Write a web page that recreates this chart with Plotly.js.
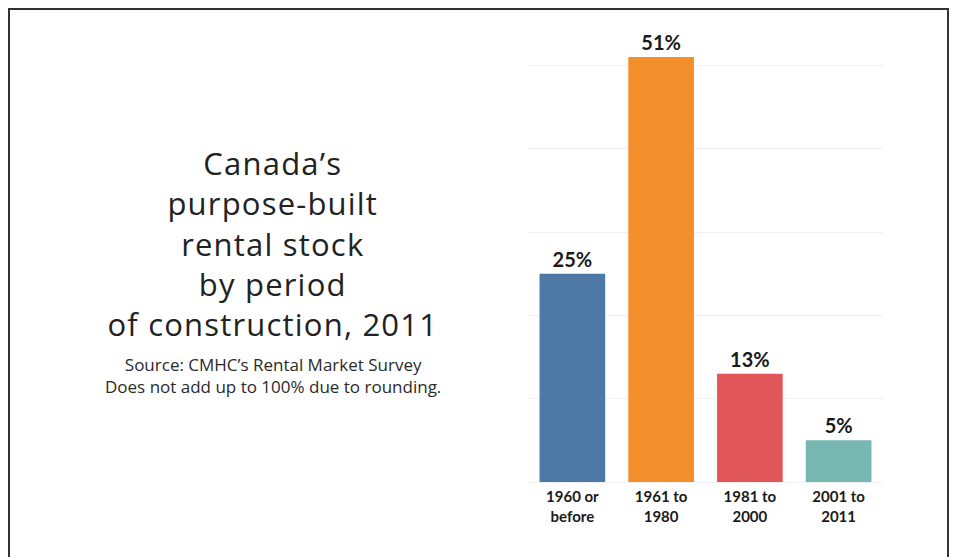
<!DOCTYPE html>
<html>
<head>
<meta charset="utf-8">
<script src="https://cdn.plot.ly/plotly-3.0.1.min.js"></script>
<style>
  html, body { margin: 0; padding: 0; background: #fff; }
  #wrap { position: relative; width: 959px; height: 557px; overflow: hidden; }
  #chart { width: 959px; height: 557px; }
  #frame { position: absolute; left: 8px; top: 8px; width: 941px; height: 600px;
           border: 2px solid #333; pointer-events: none; box-sizing: border-box; }
  #chart .annotation[data-index="0"] text { letter-spacing: 1.2px; }
</style>
</head>
<body>
<div id="wrap">
  <div id="chart"></div>
  <div id="frame"></div>
</div>
<script>
const categories = ["1960 or<br>before", "1961 to<br>1980", "1981 to<br>2000", "2001 to<br>2011"];
const shares = [25, 51, 13, 5];
const barColors = ["#4e79a7", "#f28e2b", "#e15759", "#76b7b2"];
const titleLines = ["Canada’s", "purpose-built", "rental stock", "by period", "of construction, 2011"];
const sourceLines = ["Source: CMHC’s Rental Market Survey", "Does not add up to 100% due to rounding."];

const trace = {
  type: "bar",
  x: categories,
  y: shares,
  marker: { color: barColors },
  text: shares.map(v => v + "%"),
  textposition: "outside",
  cliponaxis: false,
  textfont: { family: "Lato, 'Open Sans', sans-serif", size: 20, color: "#1a1a1a", weight: "bold" },
  hoverinfo: "skip"
};

const textX = -0.7177;
const annotations = [
  {
    xref: "paper", yref: "paper",
    x: textX, y: (482 - 243) / 442,
    xanchor: "center", yanchor: "middle",
    text: titleLines.join("<br>"),
    showarrow: false,
    align: "center",
    font: { family: "'Open Sans', sans-serif", size: 31, color: "#222" }
  },
  {
    xref: "paper", yref: "paper",
    x: textX, y: (482 - 375) / 442,
    xanchor: "center", yanchor: "middle",
    text: sourceLines.join("<br>"),
    showarrow: false,
    align: "center",
    font: { family: "'Open Sans', sans-serif", size: 17, color: "#2a2a2a" }
  }
];

const layout = {
  width: 959,
  height: 557,
  margin: { l: 527.5, r: 75.5, t: 40, b: 75 },
  paper_bgcolor: "#ffffff",
  plot_bgcolor: "#ffffff",
  bargap: 0.26,
  showlegend: false,
  xaxis: {
    type: "category",
    showgrid: false,
    zeroline: false,
    showline: false,
    ticks: "",
    tickfont: { family: "Lato, 'Open Sans', sans-serif", size: 15, color: "#1a1a1a", weight: "bold" },
    ticklabelstandoff: 4
  },
  yaxis: {
    range: [0, 53.04],
    dtick: 10,
    showgrid: true,
    gridcolor: "#f1f1f1",
    gridwidth: 1,
    zeroline: true,
    zerolinecolor: "#f1f1f1",
    showticklabels: false,
    ticks: "",
    showline: false
  },
  annotations: annotations
};

Plotly.newPlot("chart", [trace], layout, { displayModeBar: false, staticPlot: true });
</script>
</body>
</html>
